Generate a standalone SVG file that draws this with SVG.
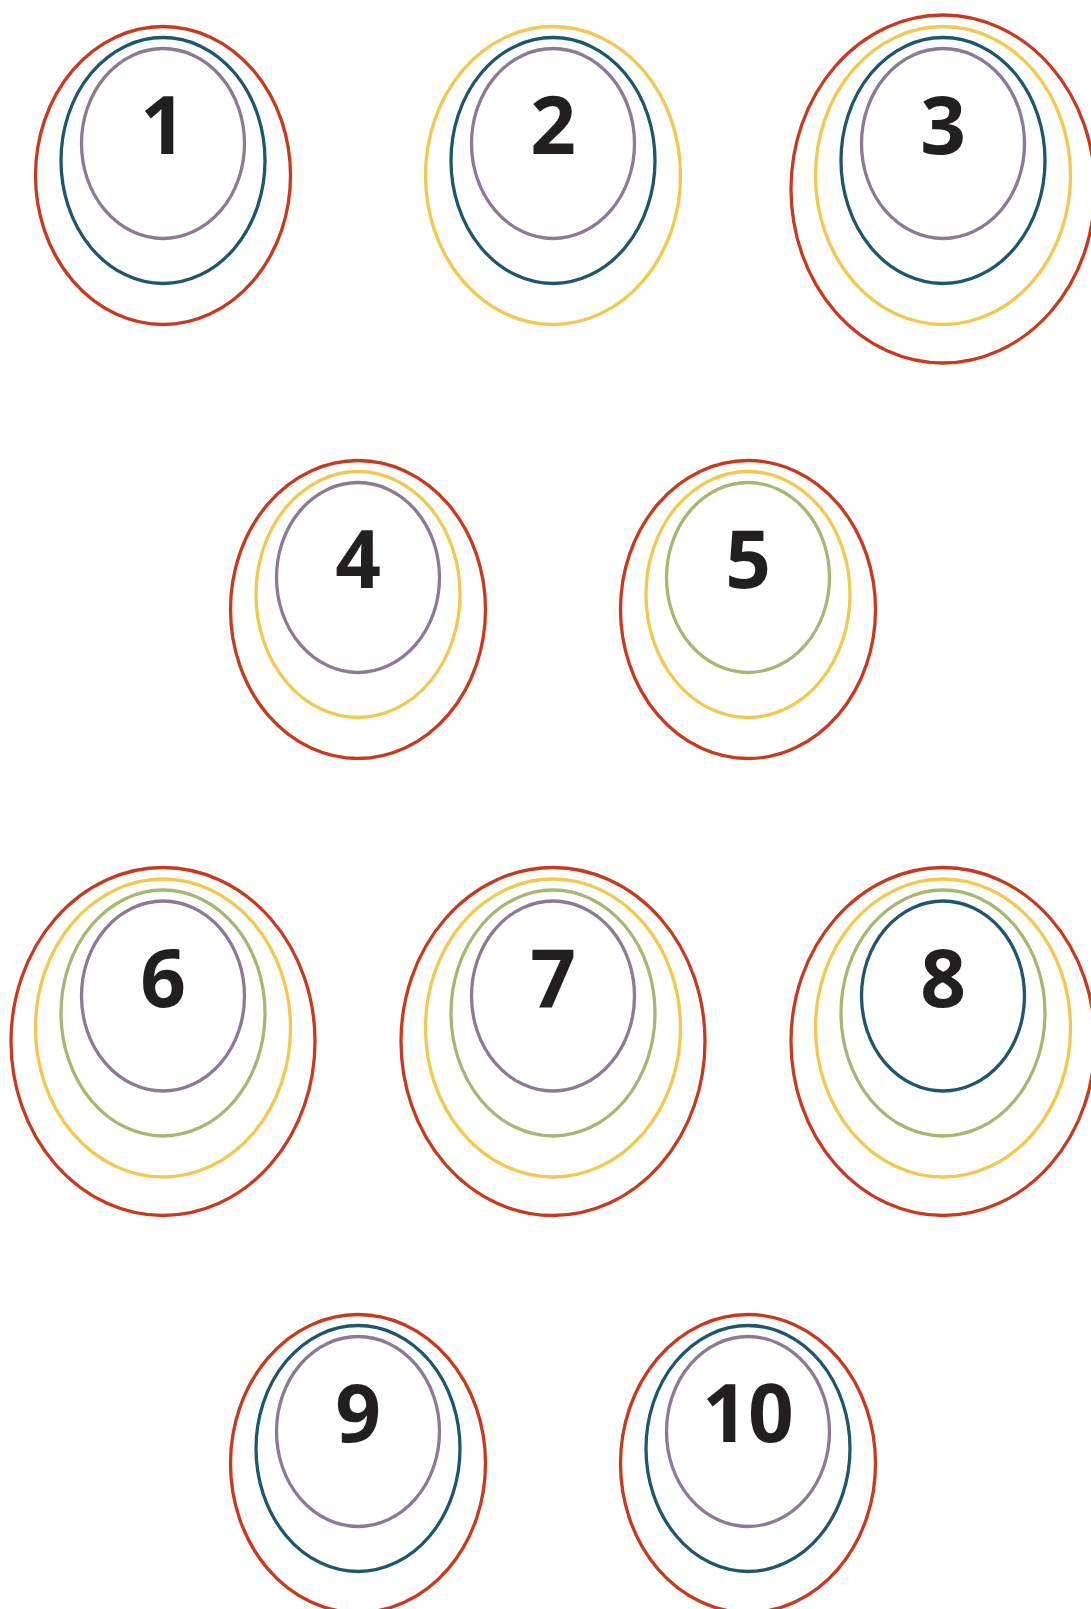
<svg xmlns="http://www.w3.org/2000/svg" xmlns:xlink="http://www.w3.org/1999/xlink" width="1091" height="1609" viewBox="0 0 1091 1609">
<style>
ellipse{fill:none;stroke-width:3.3}
.red{stroke:#C63B20}
.yel{stroke:#F2C752}
.grn{stroke:#A7B672}
.blu{stroke:#1F566B}
.pur{stroke:#8C7A95}
text{font-family:"Open Sans","Liberation Sans",sans-serif;font-weight:700;font-size:80px;fill:#231F20;text-anchor:middle}
</style>
<defs>
<ellipse id="L1" cx="0" cy="143.5" rx="81.5" ry="95"/>
<ellipse id="L2" cx="0" cy="160.5" rx="102" ry="123"/>
<ellipse id="L3" cx="0" cy="175.5" rx="127.5" ry="149"/>
<ellipse id="L4" cx="0" cy="189" rx="152" ry="174"/>
</defs>
<rect width="1091" height="1609" fill="#ffffff"/>
<g id="node1" transform="translate(163,0)">
<use href="#L3" class="red"/><use href="#L2" class="blu"/><use href="#L1" class="pur"/>
<text x="0" y="154">1</text>
</g>
<g id="node2" transform="translate(553,0)">
<use href="#L3" class="yel"/><use href="#L2" class="blu"/><use href="#L1" class="pur"/>
<text x="0" y="154">2</text>
</g>
<g id="node3" transform="translate(943,0)">
<use href="#L4" class="red"/><use href="#L3" class="yel"/><use href="#L2" class="blu"/><use href="#L1" class="pur"/>
<text x="0" y="154">3</text>
</g>
<g id="node4" transform="translate(358,434)">
<use href="#L3" class="red"/><use href="#L2" class="yel"/><use href="#L1" class="pur"/>
<text x="0" y="154">4</text>
</g>
<g id="node5" transform="translate(748,434)">
<use href="#L3" class="red"/><use href="#L2" class="yel"/><use href="#L1" class="grn"/>
<text x="0" y="154">5</text>
</g>
<g id="node6" transform="translate(163,852.5)">
<use href="#L4" class="red"/><use href="#L3" class="yel"/><use href="#L2" class="grn"/><use href="#L1" class="pur"/>
<text x="0" y="154">6</text>
</g>
<g id="node7" transform="translate(553,852.5)">
<use href="#L4" class="red"/><use href="#L3" class="yel"/><use href="#L2" class="grn"/><use href="#L1" class="pur"/>
<text x="0" y="154">7</text>
</g>
<g id="node8" transform="translate(943,852.5)">
<use href="#L4" class="red"/><use href="#L3" class="yel"/><use href="#L2" class="grn"/><use href="#L1" class="blu"/>
<text x="0" y="154">8</text>
</g>
<g id="node9" transform="translate(358,1288)">
<use href="#L3" class="red"/><use href="#L2" class="blu"/><use href="#L1" class="pur"/>
<text x="0" y="154">9</text>
</g>
<g id="node10" transform="translate(748,1288)">
<use href="#L3" class="red"/><use href="#L2" class="blu"/><use href="#L1" class="pur"/>
<text x="0" y="154">10</text>
</g>
<g id="connectors"/>
</svg>
